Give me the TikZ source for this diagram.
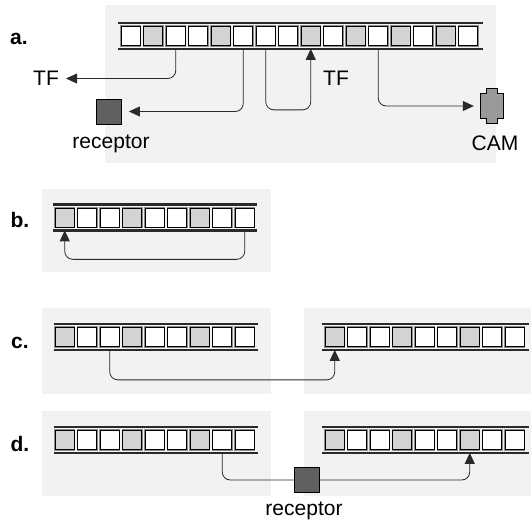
\documentclass[tikz,border=0pt]{standalone}
\usepackage{fontspec}
\setmainfont{Liberation Sans}
\usepackage{tikz}
\usepackage{xcolor}
\usetikzlibrary{arrows.meta,positioning,calc}
\definecolor{panelbg}{HTML}{F1F2F4}
\definecolor{shade}{HTML}{D2D3D5}
\definecolor{ink}{HTML}{2A2A2A}
\definecolor{recfill}{HTML}{606060}
\definecolor{camfill}{HTML}{9A9A9A}
\definecolor{ring}{HTML}{8C8C8C}
\tikzset{
  panel/.style={fill=panelbg, draw=none},
  rail/.style={draw=ink, line width=2.2pt},
  cell/.style={draw=black, line width=0.7pt, minimum width=19pt, minimum height=19pt,
               inner sep=0pt, preaction={draw=ring, line width=2.4pt}},
  link/.style={draw=ink, line width=0.8pt, rounded corners=8pt,
               -{Triangle[length=11pt,width=10pt]}},
  lbl/.style={font=\fontsize{21}{24}\selectfont, inner sep=0pt},
  tag/.style={font=\fontsize{21}{24}\selectfont\bfseries, inner sep=0pt},
  recbox/.style={draw=black, fill=recfill, line width=0.8pt, minimum size=25pt, inner sep=0pt}
}

\begin{document}
\begin{tikzpicture}[x=1pt,y=-1pt]
  \useasboundingbox (0,0) rectangle (531,523);

  % backgrounds
  \fill[panel] (105,5) rectangle (496,163);
  \fill[panel] (42,189) rectangle (271,272);
  \fill[panel] (42,308) rectangle (271,394);
  \fill[panel] (304,308) rectangle (531,394);
  \fill[panel] (42,411) rectangle (271,496);
  \fill[panel] (304,411) rectangle (531,496);

  % panel a
  \node[tag] (taga) at (19,39) {a.};
  \draw[rail] (118,23) -- (483,23);
  \draw[rail] (118,49) -- (483,49);
  \foreach \c [count=\i] in {white,shade,white,white,shade,white,white,white,
                             shade,white,shade,white,shade,white,shade,white}
    \node[cell,fill=\c] (a\i) at ({130.75+22.5*(\i-1)},36) {};
  \node[lbl] (tfl) at (46,78.5) {TF};
  \node[lbl] (tfr) at (336,78.5) {TF};
  \node[recbox] (reca) at (109,111.5) {};
  \node[lbl,anchor=base] (recalbl) at (111,148) {receptor};
  \node[minimum width=22pt,minimum height=34pt,inner sep=0pt] (cam) at (492,106) {};
  \fill[camfill,draw=black,line width=0.7pt]
    ([xshift=6pt]cam.north west) -- ([xshift=-6pt]cam.north east)
    -- ++(0,5) -- ([yshift=-5pt]cam.north east) -- ([yshift=5pt]cam.south east)
    -- ++(-6,0) -- ([xshift=-6pt]cam.south east) -- ([xshift=6pt]cam.south west)
    -- ++(0,-5) -- ([yshift=5pt]cam.south west) -- ([yshift=-5pt]cam.north west)
    -- ++(6,0) -- cycle;
  \node[lbl,anchor=base] (camlbl) at (495,150) {CAM};
  \draw[link,shorten >=7pt] ([yshift=-3pt]a3.south) |- (tfl.east);
  \draw[link,shorten >=7pt] ([yshift=-3pt]a6.south) |- (reca.east);
  \draw[link] ([yshift=-3pt]a7.south) -- ++(0,61) -| ([yshift=-3pt]a9.south);
  \draw[link,shorten >=7pt] ([yshift=-3pt]a12.south) |- (cam.west);

  % panel b
  \node[tag] (tagb) at (20,219.5) {b.};
  \draw[rail] (53,204.5) -- (257,204.5);
  \draw[rail] (53,230.5) -- (257,230.5);
  \foreach \c [count=\i] in {shade,white,white,shade,white,white,shade,white,white}
    \node[cell,fill=\c] (b\i) at ({64.75+22.5*(\i-1)},217.5) {};
  \draw[link] ([yshift=-3pt]b9.south) -- ++(0,29) -| ([yshift=-3pt]b1.south);

  % panel c
  \node[tag] (tagc) at (20,343) {c.};
  \draw[rail] (54,324) -- (258,324);
  \draw[rail] (54,350) -- (258,350);
  \draw[rail] (322,324) -- (529,324);
  \draw[rail] (322,350) -- (529,350);
  \foreach \c [count=\i] in {shade,white,white,shade,white,white,shade,white,white}{
    \node[cell,fill=\c] (cl\i) at ({64.75+22.5*(\i-1)},337) {};
    \node[cell,fill=\c] (cr\i) at ({334.75+22.5*(\i-1)},337) {};
  }
  \draw[link] ([yshift=-3pt]cl3.south) -- ++(0,30) -| ([yshift=-3pt]cr1.south);

  % panel d
  \node[tag] (tagd) at (20,443.5) {d.};
  \draw[rail] (54,427) -- (258,427);
  \draw[rail] (54,453) -- (258,453);
  \draw[rail] (322,427) -- (529,427);
  \draw[rail] (322,453) -- (529,453);
  \foreach \c [count=\i] in {shade,white,white,shade,white,white,shade,white,white}{
    \node[cell,fill=\c] (dl\i) at ({64.75+22.5*(\i-1)},440) {};
    \node[cell,fill=\c] (dr\i) at ({334.75+22.5*(\i-1)},440) {};
  }
  \node[recbox] (recd) at (307,480) {};
  \node[lbl,anchor=base] (recdlbl) at (304,515) {receptor};
  \draw[draw=ink,line width=0.8pt,rounded corners=8pt] ([yshift=-3pt]dl8.south) |- (recd.west);
  \draw[link] (recd.east) -| ([yshift=-3pt]dr7.south);
\end{tikzpicture}
\end{document}
